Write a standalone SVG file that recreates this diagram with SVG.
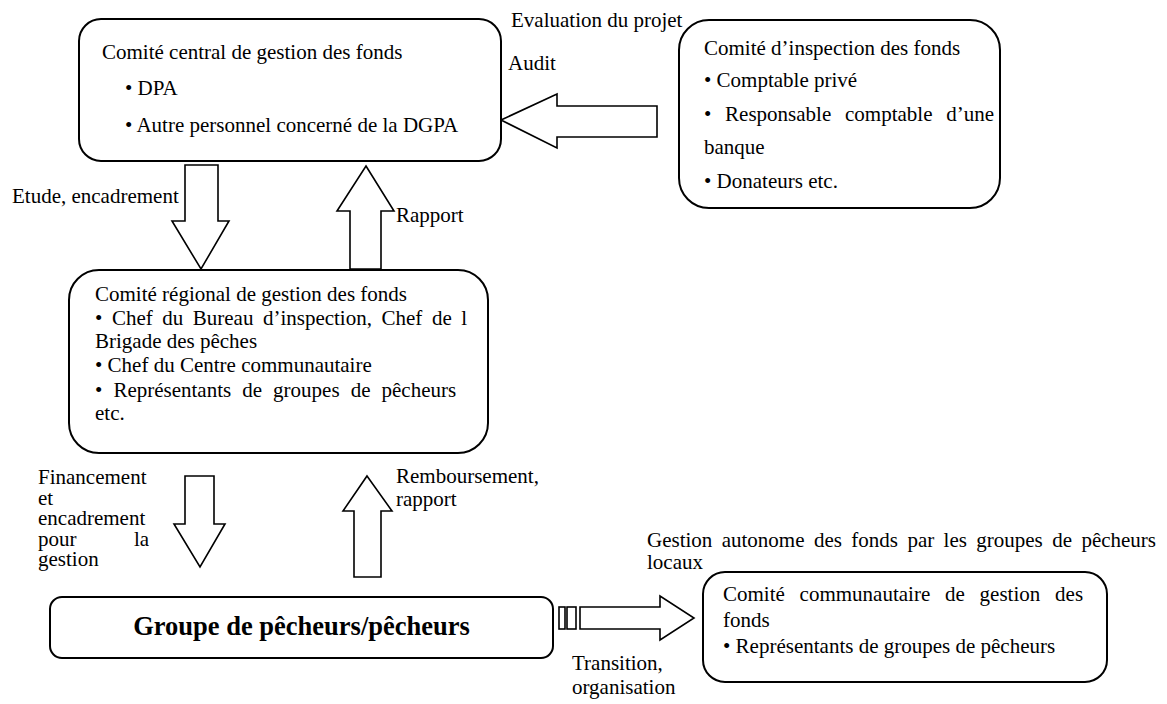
<svg xmlns="http://www.w3.org/2000/svg" width="1167" height="704" viewBox="0 0 1167 704">
<style>
text{font-family:"Liberation Serif","Times New Roman",serif;font-size:21px;fill:#000}
.box{fill:#fff;stroke:#000;stroke-width:2}
.arr{fill:#fff;stroke:#000;stroke-width:1.6;stroke-linejoin:miter}
.bold{font-weight:bold;font-size:26.5px}
</style>
<rect width="1167" height="704" fill="#fff"/>
<g id="connectors">
<polygon class="arr" points="185,165 218,165 218,221 229,221 201,269 172,221 185,221"/>
<polygon class="arr" points="366,166 394,211 381,211 381,269 350,269 350,211 337,211"/>
<polygon class="arr" points="501,120 557,94 557,106 657,106 657,137 557,137 557,148"/>
<polygon class="arr" points="185,476 214,476 214,524 225,524 200,567 174,524 185,524"/>
<polygon class="arr" points="367,476 392,511 381,511 381,577 354,577 354,511 343,511"/>
<rect class="arr" x="559" y="607" width="6" height="22"/>
<rect class="arr" x="567" y="607" width="9" height="22"/>
<polygon class="arr" points="580,607 660,607 660,596 694,618 660,640 660,629 580,629"/>
<text x="511" y="27">Evaluation du projet</text>
<text x="508" y="70">Audit</text>
<text x="12" y="203">Etude, encadrement</text>
<text x="396" y="222">Rapport</text>
<text x="38" y="484">Financement</text>
<text x="38" y="505">et</text>
<text x="38" y="525">encadrement</text>
<text y="546"><tspan x="38">pour</tspan><tspan x="134">la</tspan></text>
<text x="38" y="566">gestion</text>
<text x="396" y="483">Remboursement,</text>
<text x="396" y="506">rapport</text>
<text x="572" y="670">Transition,</text>
<text x="572" y="694">organisation</text>
<text y="547"><tspan x="647">Gestion</tspan><tspan x="721.7">autonome</tspan><tspan x="813.9">des</tspan><tspan x="851.3">fonds</tspan><tspan x="907.4">par</tspan><tspan x="943.6">les</tspan><tspan x="976.3">groupes</tspan><tspan x="1052.2">de</tspan><tspan x="1081.4">pêcheurs</tspan></text>
<text x="647" y="569">locaux</text>
</g>
<g id="node-central">
<rect class="box" x="79" y="19" width="422" height="142" rx="22"/>
<text x="102" y="59">Comité central de gestion des fonds</text>
<text x="125" y="95">• DPA</text>
<text x="125" y="132">• Autre personnel concerné de la DGPA</text>
</g>
<g id="node-inspection">
<rect class="box" x="679" y="20" width="321" height="188" rx="30"/>
<text x="704" y="55">Comité d’inspection des fonds</text>
<text x="704" y="87">• Comptable privé</text>
<text y="121"><tspan x="704">•</tspan><tspan x="725.1">Responsable</tspan><tspan x="845">comptable</tspan><tspan x="946.2">d’une</tspan></text>
<text x="704" y="154">banque</text>
<text x="704" y="188">• Donateurs etc.</text>
</g>
<g id="node-regional">
<rect class="box" x="69" y="270" width="419" height="183" rx="30"/>
<text x="95" y="301">Comité régional de gestion des fonds</text>
<text y="325"><tspan x="95">•</tspan><tspan x="111.9">Chef</tspan><tspan x="162.2">du</tspan><tspan x="192.8">Bureau</tspan><tspan x="262.9">d’inspection,</tspan><tspan x="381.5">Chef</tspan><tspan x="431.9">de</tspan><tspan x="461.2">l</tspan></text>
<text x="95" y="348">Brigade des pêches</text>
<text x="95" y="372">• Chef du Centre communautaire</text>
<text y="397"><tspan x="95">•</tspan><tspan x="113.4">Représentants</tspan><tspan x="242.3">de</tspan><tspan x="273.1">groupes</tspan><tspan x="350.7">de</tspan><tspan x="381.5">pêcheurs</tspan></text>
<text x="95" y="420">etc.</text>
</g>
<g id="node-groupe">
<rect class="box" x="50" y="597" width="503" height="61" rx="12"/>
<text class="bold" x="301.5" y="635" text-anchor="middle">Groupe de pêcheurs/pêcheurs</text>
</g>
<g id="node-communautaire">
<rect class="box" x="703" y="572" width="404" height="110" rx="22"/>
<text y="601"><tspan x="723">Comité</tspan><tspan x="799.6">communautaire</tspan><tspan x="945">de</tspan><tspan x="979.6">gestion</tspan><tspan x="1055.1">des</tspan></text>
<text x="723" y="627">fonds</text>
<text x="723" y="653">• Représentants de groupes de pêcheurs</text>
</g>
</svg>
